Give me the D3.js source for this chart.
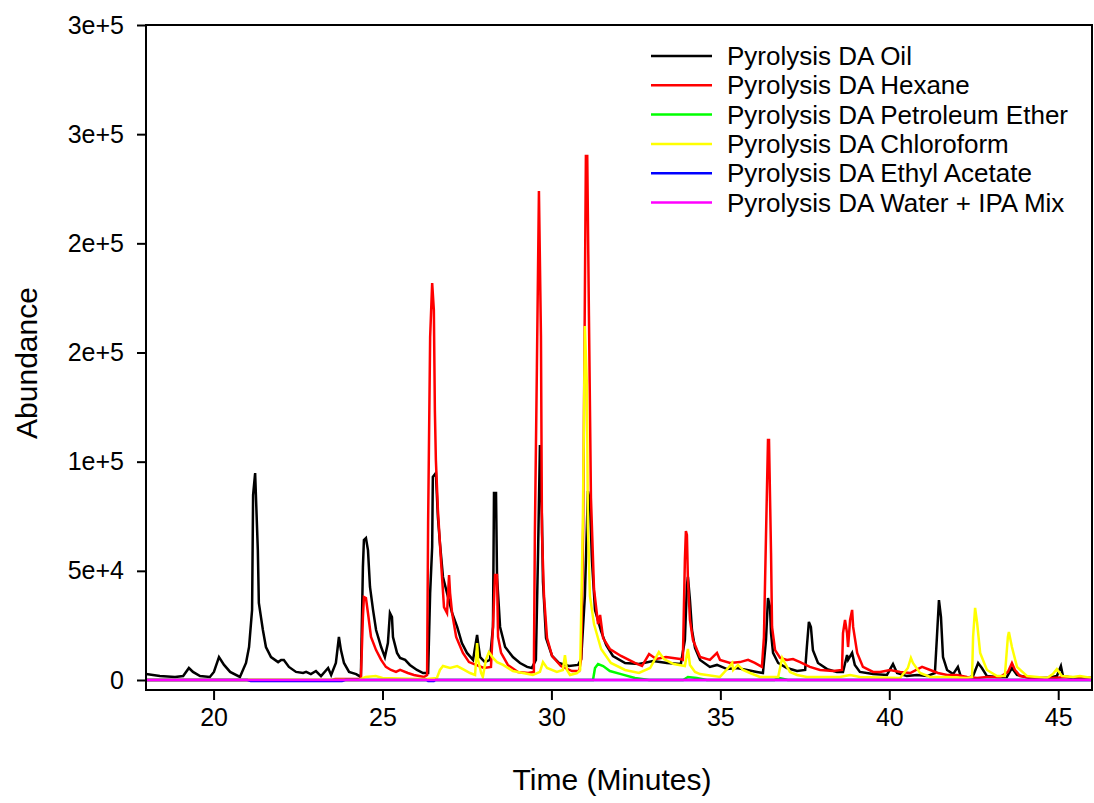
<!DOCTYPE html>
<html>
<head>
<meta charset="utf-8">
<script src="https://cdn.jsdelivr.net/npm/d3@7"></script>
<style>
  html, body { margin: 0; padding: 0; background: #ffffff; }
  svg { display: block; }
  text { font-family: "Liberation Sans", Arial, sans-serif; fill: #000; }
</style>
</head>
<body>
<svg id="chart" width="1094" height="803"></svg>
<script>
// Total ion chromatograms of pyrolysis DA fractions: [time (min), abundance]
const oilSeries = [
  [18.00,2700],[18.41,1800],[18.86,1400],[19.10,1800],[19.27,5500],[19.39,3700],[19.60,1800],
  [19.89,1400],[20.01,3700],[20.16,10500],[20.31,6900],[20.49,3700],[20.78,1400],[20.96,7800],
  [21.05,15100],[21.14,32100],[21.17,84700],[21.23,94800],[21.31,59500],[21.34,35300],[21.46,22900],
  [21.55,15100],[21.70,10500],[21.91,8200],[22.00,9200],[22.08,9200],[22.23,6000],[22.44,3700],
  [22.65,3200],[22.74,3700],[22.88,2700],[23.03,4100],[23.18,1800],[23.39,5500],[23.48,2300],
  [23.62,7800],[23.71,19700],[23.77,13700],[23.86,7800],[24.01,3700],[24.22,2700],[24.36,1400],
  [24.42,51700],[24.45,64100],[24.51,65000],[24.57,59500],[24.63,42600],[24.72,32100],[24.81,22900],
  [24.96,15100],[25.07,10500],[25.16,16900],[25.22,30700],[25.28,28800],[25.31,19700],[25.43,12400],
  [25.52,10100],[25.67,9200],[25.81,6900],[26.02,4600],[26.20,3200],[26.35,3200],[26.41,39800],
  [26.47,60900],[26.49,93000],[26.58,94800],[26.64,74600],[26.70,62700],[26.79,47200],[26.91,39800],
  [27.06,30700],[27.21,24300],[27.35,16900],[27.50,12400],[27.68,9200],[27.80,20600],[27.83,16900],
  [27.89,10500],[28.03,8200],[28.18,9200],[28.27,24300],[28.30,85600],[28.36,85600],[28.39,47200],
  [28.48,24300],[28.63,15100],[28.86,10500],[29.07,7800],[29.28,6000],[29.42,5500],[29.54,9200],
  [29.60,54900],[29.66,107600],[29.72,73300],[29.75,44900],[29.84,19200],[30.02,11000],[30.22,7800],
  [30.52,6400],[30.79,6900],[30.88,9600],[30.99,38500],[31.08,86500],[31.14,82000],[31.20,54500],
  [31.29,32100],[31.47,22400],[31.62,16000],[31.82,11000],[32.18,7800],[32.59,7300],[33.01,8700],
  [33.42,7800],[33.83,7300],[33.95,18300],[34.01,43500],[34.04,47200],[34.10,36600],[34.16,22900],
  [34.25,14700],[34.40,9200],[34.69,6000],[34.90,6900],[35.20,5000],[35.49,5500],[35.79,4600],
  [36.08,3700],[36.26,3200],[36.35,18300],[36.41,37500],[36.47,33400],[36.50,21500],[36.56,12400],
  [36.71,7800],[36.97,5500],[37.27,4100],[37.51,4600],[37.56,15100],[37.62,26600],[37.68,24300],
  [37.74,13700],[37.89,7800],[38.16,5000],[38.45,3700],[38.63,3700],[38.75,11400],[38.78,9200],
  [38.90,12400],[38.98,6900],[39.13,3700],[39.52,2700],[39.93,2300],[40.11,7300],[40.23,3200],
  [40.52,1800],[40.82,2300],[41.12,1800],[41.35,3200],[41.41,19700],[41.47,36600],[41.53,28800],
  [41.59,10500],[41.71,4600],[41.89,2700],[42.03,6000],[42.12,1400],[42.30,900],[42.48,1800],
  [42.63,7800],[42.74,5500],[42.89,1800],[43.19,1400],[43.48,1400],[43.63,5500],[43.78,2300],
  [44.16,900],[44.67,900],[44.96,1800],[45.08,6400],[45.14,1800],[45.44,900],[46.00,900]
];

const hexaneSeries = [
  [18.00,0],[23.50,0],[23.60,500],[24.36,600],[24.42,28800],[24.45,38000],[24.51,37500],
  [24.57,30700],[24.66,19700],[24.81,13700],[24.96,9200],[25.10,6000],[25.25,4600],[25.40,3700],
  [25.52,4600],[25.75,3200],[25.93,2300],[26.23,1400],[26.32,2300],[26.35,71900],[26.41,157100],
  [26.47,181800],[26.52,169400],[26.55,123600],[26.58,100700],[26.64,77800],[26.73,54900],
  [26.82,33400],[26.91,30700],[26.97,48100],[27.00,39800],[27.06,30700],[27.18,19700],[27.38,12400],
  [27.56,8200],[27.77,6900],[28.00,5500],[28.21,6000],[28.27,24300],[28.33,48100],[28.39,48100],
  [28.42,19700],[28.51,12400],[28.71,6900],[29.01,3700],[29.31,3200],[29.48,3700],[29.51,67300],
  [29.57,143300],[29.63,224000],[29.69,157500],[29.72,67300],[29.78,38500],[29.87,19200],
  [30.02,11000],[30.28,6400],[30.61,4100],[30.82,4100],[30.88,9600],[30.94,70500],[30.97,135100],
  [31.02,240000],[31.06,240000],[31.11,167100],[31.17,83300],[31.26,41700],[31.38,25600],
  [31.44,29800],[31.53,19200],[31.73,14200],[32.06,11000],[32.47,7800],[32.68,6400],[32.89,11900],
  [33.10,9600],[33.39,10500],[33.81,9600],[33.89,9200],[33.95,54900],[33.98,68200],[34.01,66400],
  [34.04,45800],[34.10,27500],[34.19,18300],[34.31,13700],[34.40,10500],[34.69,9200],[34.90,12400],
  [34.99,9200],[35.29,7800],[35.58,8200],[35.82,9200],[36.02,7800],[36.23,6000],[36.29,19700],
  [36.35,65500],[36.41,109900],[36.44,109900],[36.50,58200],[36.53,24300],[36.62,13700],
  [36.77,10100],[36.97,9200],[37.15,9600],[37.36,8200],[37.65,6000],[37.95,4600],[38.34,4100],
  [38.60,4600],[38.63,21500],[38.69,27500],[38.75,21500],[38.78,15100],[38.84,27500],[38.90,32100],
  [38.93,24300],[39.05,12400],[39.22,6000],[39.52,3700],[39.73,3700],[40.02,4600],[40.32,3700],
  [40.62,3200],[40.97,6000],[41.21,4600],[41.44,3200],[41.71,2300],[42.00,2300],[42.30,1400],
  [42.60,900],[42.89,1400],[43.28,1400],[43.51,3700],[43.63,7800],[43.72,4600],[43.87,1800],
  [44.25,900],[44.84,900],[45.25,1400],[46.00,900]
];

const petroleumEtherSeries = [
  [18.00,0],[31.17,0],[31.23,0],[31.29,5500],[31.38,7300],[31.53,6400],[31.73,4100],[32.06,2700],
  [32.47,900],[32.89,0],[33.90,0],[34.04,1400],[34.30,900],[34.60,0],[36.60,0],[36.75,900],
  [37.00,0],[46.00,0]
];

const chloroformSeries = [
  [18.00,0],[24.30,0],[24.50,1400],[24.80,1800],[25.00,900],[25.52,700],[26.11,500],[26.32,500],
  [26.61,900],[26.70,4600],[26.79,6400],[27.00,5500],[27.21,6400],[27.38,5000],[27.59,3200],
  [27.74,2300],[27.80,16900],[27.83,9200],[27.92,3200],[27.97,1400],[28.06,9200],[28.15,12800],
  [28.27,10100],[28.39,8200],[28.57,6900],[28.86,4100],[29.16,3200],[29.45,2300],[29.66,3700],
  [29.75,8200],[29.87,5500],[30.16,3700],[30.34,4600],[30.40,11400],[30.46,4600],[30.55,2300],
  [30.76,3200],[30.85,4600],[30.93,72300],[30.99,162100],[31.05,135100],[31.08,70000],
  [31.14,38500],[31.26,25600],[31.47,14200],[31.76,7800],[32.18,4600],[32.59,3200],[32.92,5500],
  [33.18,12800],[33.33,9600],[33.62,7300],[33.95,6400],[34.04,14200],[34.10,6900],[34.25,3700],
  [34.40,2700],[34.99,1400],[35.23,5500],[35.35,7800],[35.38,4600],[35.52,6900],[35.67,4600],
  [35.88,3200],[36.17,1400],[36.38,1400],[36.71,1400],[36.83,10100],[36.91,7800],[37.06,3700],
  [37.27,2300],[37.56,1400],[37.95,1400],[38.54,1400],[38.84,2300],[39.13,1400],[40.32,900],
  [40.55,5500],[40.64,10100],[40.70,7800],[40.91,3200],[41.21,1400],[41.71,1400],[42.30,900],
  [42.45,1400],[42.48,19700],[42.54,33000],[42.60,26100],[42.69,12400],[42.89,4600],[43.19,1800],
  [43.42,1800],[43.51,19700],[43.54,22000],[43.63,15100],[43.78,6000],[44.08,1800],[44.67,900],
  [44.84,2700],[44.96,5000],[45.11,1800],[45.44,1400],[45.64,1800],[46.00,900]
];

const ethylAcetateSeries = [
  [18.00,0],[21.00,0],[21.10,-450],[23.80,-450],[23.90,0],[26.30,0],[26.35,-450],[26.52,-450],
  [26.57,0],[46.00,0]
];

const waterIpaSeries = [
  [18.00,0],[46.00,0]
];

// Series order, names and colours (drawn back to front)
const seriesNames = [
  "Pyrolysis DA Oil",
  "Pyrolysis DA Hexane",
  "Pyrolysis DA Petroleum Ether",
  "Pyrolysis DA Chloroform",
  "Pyrolysis DA Ethyl Acetate",
  "Pyrolysis DA Water + IPA Mix"
];
const seriesColors = ["#000000", "#ff0000", "#00ff00", "#ffff00", "#0000ff", "#ff00ff"];
const seriesData = [oilSeries, hexaneSeries, petroleumEtherSeries, chloroformSeries,
                    ethylAcetateSeries, waterIpaSeries];

// Axis ticks
const xTicks = [20, 25, 30, 35, 40, 45];
const yTicks = [0, 50000, 100000, 150000, 200000, 250000, 300000];
const yTickLabels = ["0", "5e+4", "1e+5", "2e+5", "2e+5", "3e+5", "3e+5"];
const xDomain = [18, 46];
const yDomain = [-4580, 300000];

// Layout
const plot = { left: 146, right: 1092, top: 25, bottom: 690 };
const svg = d3.select("#chart");

const x = d3.scaleLinear().domain(xDomain).range([plot.left, plot.right]);
const y = d3.scaleLinear().domain(yDomain).range([plot.bottom, plot.top]);

svg.append("defs").append("clipPath").attr("id", "plotClip")
  .append("rect")
  .attr("x", plot.left).attr("y", plot.top)
  .attr("width", plot.right - plot.left).attr("height", plot.bottom - plot.top);

// Traces
const line = d3.line().x(d => x(d[0])).y(d => y(d[1]));
const traces = svg.append("g").attr("clip-path", "url(#plotClip)");
seriesData.forEach((data, i) => {
  traces.append("path")
    .datum(data)
    .attr("d", line)
    .attr("fill", "none")
    .attr("stroke", seriesColors[i])
    .attr("stroke-width", 2.5)
    .attr("stroke-linejoin", "miter");
});

// Frame
svg.append("rect")
  .attr("x", plot.left).attr("y", plot.top)
  .attr("width", plot.right - plot.left).attr("height", plot.bottom - plot.top)
  .attr("fill", "none").attr("stroke", "#000").attr("stroke-width", 2);

// Y axis
const yAxis = d3.axisLeft(y)
  .tickValues(yTicks)
  .tickFormat((d, i) => yTickLabels[i])
  .tickSize(9)
  .tickPadding(13);
const gy = svg.append("g").attr("transform", `translate(${plot.left},0)`).call(yAxis);
gy.select(".domain").remove();
gy.selectAll(".tick line").attr("stroke", "#000").attr("stroke-width", 2);
gy.selectAll(".tick text")
  .attr("font-family", "'Liberation Sans', Arial, sans-serif")
  .attr("font-size", 25).attr("fill", "#000");

// X axis
const xAxis = d3.axisBottom(x)
  .tickValues(xTicks)
  .tickFormat(d3.format("d"))
  .tickSize(10)
  .tickPadding(8);
const gx = svg.append("g").attr("transform", `translate(0,${plot.bottom})`).call(xAxis);
gx.select(".domain").remove();
gx.selectAll(".tick line").attr("stroke", "#000").attr("stroke-width", 2);
gx.selectAll(".tick text")
  .attr("font-family", "'Liberation Sans', Arial, sans-serif")
  .attr("font-size", 25).attr("fill", "#000");

// Axis titles
svg.append("text")
  .attr("x", 612)
  .attr("y", 790)
  .attr("text-anchor", "middle")
  .attr("font-size", 30)
  .text("Time (Minutes)");

svg.append("text")
  .attr("transform", "translate(37,363) rotate(-90)")
  .attr("text-anchor", "middle")
  .attr("font-size", 30)
  .text("Abundance");

// Legend
const legend = svg.append("g").attr("transform", "translate(651,56)");
seriesNames.forEach((name, i) => {
  const row = legend.append("g").attr("transform", `translate(0,${i * 29.3})`);
  row.append("line")
    .attr("x1", 0).attr("x2", 61).attr("y1", 0).attr("y2", 0)
    .attr("stroke", seriesColors[i]).attr("stroke-width", 2.5);
  row.append("text")
    .attr("x", 76).attr("y", 9)
    .attr("font-size", 26)
    .text(name);
});
</script>
</body>
</html>
